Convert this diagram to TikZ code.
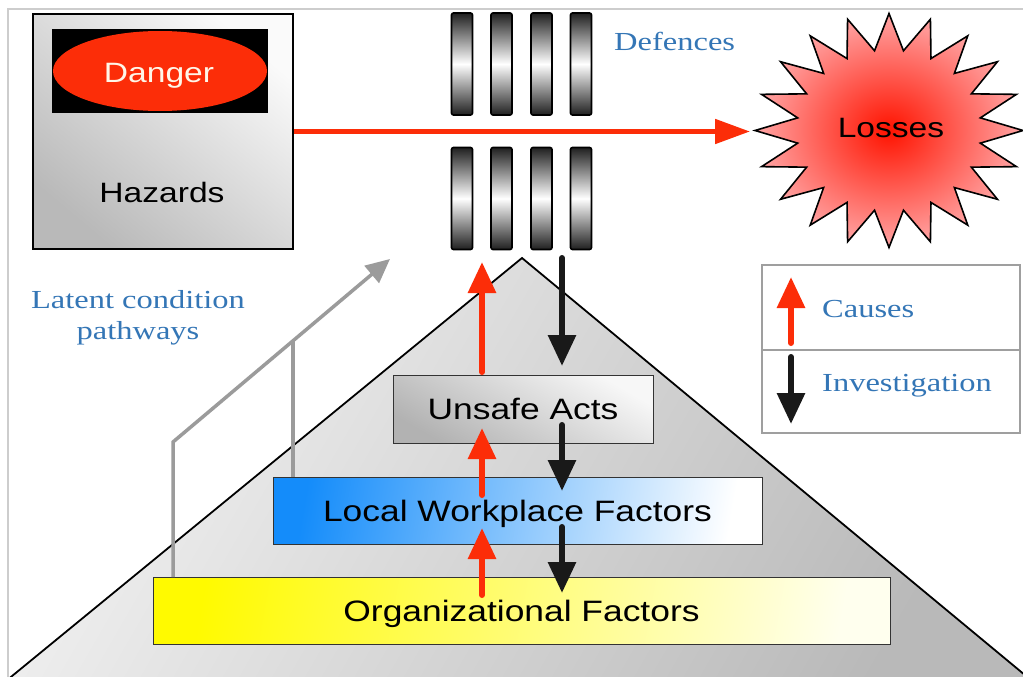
\documentclass[tikz,border=0pt]{standalone}
\usepackage{fontspec}
\setmainfont{Liberation Serif}
\newfontfamily\sfw[FakeStretch=1.2]{Liberation Sans}
\newfontfamily\rmw[FakeStretch=1.25]{Liberation Serif}
\usetikzlibrary{arrows.meta,calc,shapes.geometric}
\definecolor{tblue}{RGB}{52,118,182}
\definecolor{ared}{RGB}{252,45,8}
\definecolor{pgray}{RGB}{155,155,155}
\definecolor{framegray}{RGB}{205,205,205}
\definecolor{cream}{RGB}{255,246,232}
\begin{document}
\begin{tikzpicture}[x=1pt,y=-1pt,
  sanslbl/.style={font=\sfw\fontsize{28}{30}\selectfont, text=black, text height=20pt, text depth=0pt},
  boxlbl/.style={font=\sfw\fontsize{29.5}{31}\selectfont, text=black, text height=21pt, text depth=0pt},
  serlbl/.style={font=\rmw\fontsize{26}{31}\selectfont, text=tblue},
  bar/.style={draw=black, line width=1.6pt, rounded corners=2pt, minimum width=21pt, minimum height=102pt, inner sep=0pt,
     top color=gray!25!black, bottom color=gray!25!black, middle color=white},
  layerbox/.style={draw=gray!40!black, line width=1pt, inner sep=0pt},
  legbox/.style={draw=gray!75, line width=1.2pt, fill=white, minimum width=258pt, inner sep=0pt},
  redarr/.style={draw=ared, line width=6pt, line cap=round, -{Triangle[width=27pt,length=31pt]}},
  blkarr/.style={draw=black!90, line width=6pt, line cap=round, -{Triangle[width=27pt,length=31pt]}},
  grayarr/.style={draw=pgray, line width=3.5pt, -{Triangle[width=22pt,length=24pt]}},
  grayln/.style={draw=pgray, line width=3.5pt}]
\useasboundingbox (0,0) rectangle (1023,677);
\fill[white] (0,0) rectangle (1023,677);
\begin{scope}
\clip (0,0) rectangle (1023,677);
% outer frame
\draw[framegray, line width=2.5pt] (8,700) -- (8,9) -- (1040,9);
% pyramid
\shade[top color=gray!10, bottom color=gray!55, shading angle=60] (522,258) -- (1043,690) -- (-5,690) -- cycle;
\draw[black, line width=1.8pt] (-5,690) -- (522,258) -- (1043,690);
\end{scope}

% hazards box
\node[draw=black, line width=1.5pt, minimum width=260pt, minimum height=235pt, inner sep=0pt,
      top color=white!96!gray, bottom color=gray!55, shading angle=-40] (haz) at (163,131.5) {};
\node[fill=black, minimum width=216pt, minimum height=84pt, inner sep=0pt] (dbox) at (160,71) {};
\node[ellipse, fill=ared, minimum width=214pt, minimum height=80pt, inner sep=0pt] (danger) at (160,71) {};
\node[sanslbl, text=cream] (dangert) at (159,72) {Danger};
\node[sanslbl] (hazt) at (162,192) {Hazards};

% defences
\foreach \x [count=\i] in {462,501.5,541.5,581}{
  \node[bar] (bt\i) at (\x,64) {};
  \node[bar] (bb\i) at (\x,198.5) {};
}
\node[serlbl, anchor=west, inner sep=0pt] (def) at (614,41) {Defences};

% losses star
\coordinate (lc) at (889,130.5);
\shade[inner color=red!85!orange, outer color=red!35!white]
  ($(lc)+(0,-117)$) \foreach \a in {90,108,...,432}{
    -- ($(lc)+({134*0.69*cos(\a+9)},{-117*0.69*sin(\a+9)})$)
    -- ($(lc)+({134*cos(\a+18)},{-117*sin(\a+18)})$) } -- cycle;
\draw[black, line width=1.6pt, line join=miter]
  ($(lc)+(0,-117)$) \foreach \a in {90,108,...,432}{
    -- ($(lc)+({134*0.69*cos(\a+9)},{-117*0.69*sin(\a+9)})$)
    -- ($(lc)+({134*cos(\a+18)},{-117*sin(\a+18)})$) } -- cycle;
\node[sanslbl] (loss) at (891,127) {Losses};
\coordinate (lossin) at (750,131.5);
\draw[draw=ared, line width=5pt, -{Triangle[width=24pt,length=35pt]}] (haz.east) -- (lossin);

% legend
\node[legbox, minimum height=85pt] (leg1) at (891,307.5) {};
\node[legbox, minimum height=83pt] (leg2) at (891,391.5) {};
\coordinate (lr0) at (791,343); \coordinate (lr1) at (791,277);
\coordinate (lk0) at (791,357); \coordinate (lk1) at (791,424);
\draw[redarr] (lr0) -- (lr1);
\draw[blkarr] (lk0) -- (lk1);
\node[serlbl, anchor=west, inner sep=0pt] (causes) at (822,309) {Causes};
\node[serlbl, anchor=west, inner sep=0pt] (invest) at (822,386) {Investigation};

% layers
\node[layerbox, minimum width=260pt, minimum height=68pt, top color=white!94!gray, bottom color=gray!60, shading angle=-30, boxlbl] (ua) at (523,409) {Unsafe Acts};
\node[layerbox, minimum width=489pt, minimum height=67pt, left color={rgb,255:red,20;green,140;blue,250}, right color=white, shading angle=80, boxlbl] (lwf) at (517.5,510.5) {Local Workplace Factors};
\node[layerbox, minimum width=737pt, minimum height=67pt, left color={rgb,255:red,255;green,250;blue,0}, right color={rgb,255:red,255;green,255;blue,238}, shading angle=80, boxlbl] (org) at (521.5,610.5) {Organizational Factors};

% latent condition pathways
\coordinate (p1) at (173,577); \coordinate (p1b) at (173,442); \coordinate (pend) at (390,259);
\coordinate (p2) at (293,477); \coordinate (p2b) at (293,341);
\draw[grayarr, line join=miter] (p1) -- (p1b) -- (pend);
\draw[grayln] (p2) -- (p2b);
\node[serlbl, align=center] (latent) at (138,318) {Latent condition\\pathways};

% causes / investigation arrows
\coordinate (r1a) at (482,372); \coordinate (r1b) at (482,262);
\coordinate (r2a) at (482,495); \coordinate (r2b) at (482,428);
\coordinate (r3a) at (482,595); \coordinate (r3b) at (482,528);
\coordinate (k1a) at (562,258); \coordinate (k1b) at (562,366);
\coordinate (k2a) at (562,425); \coordinate (k2b) at (562,491);
\coordinate (k3a) at (562,527); \coordinate (k3b) at (562,593);
\draw[redarr] (r1a) -- (r1b);
\draw[redarr] (r2a) -- (r2b);
\draw[redarr] (r3a) -- (r3b);
\draw[blkarr] (k1a) -- (k1b);
\draw[blkarr] (k2a) -- (k2b);
\draw[blkarr] (k3a) -- (k3b);
\end{tikzpicture}
\end{document}
